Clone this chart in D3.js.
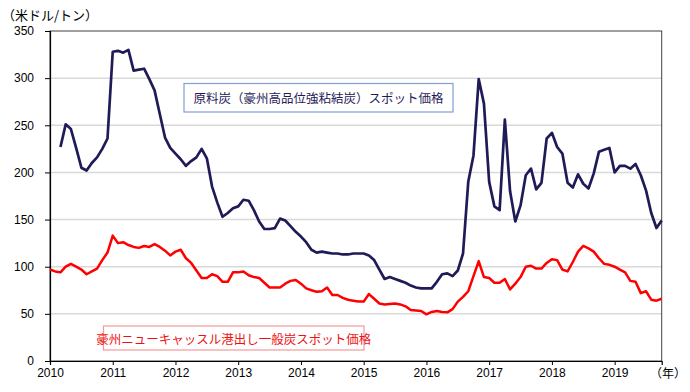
<!DOCTYPE html>
<html>
<head>
<meta charset="utf-8">
<script src="https://cdn.jsdelivr.net/npm/d3@7"></script>
<style>
  html, body { margin: 0; padding: 0; background: #ffffff; }
  svg { display: block; }
  text { font-family: "Liberation Sans", Arial, "Noto Sans CJK JP", sans-serif; }
  .jp { font-family: "Noto Sans CJK JP", "Noto Sans", sans-serif; }
</style>
</head>
<body>
<svg id="chart" width="690" height="392"></svg>
<script>
// ---- data (monthly, Jan 2010 – Oct 2019), US$/t ----
const yearLabels = ["2010","2011","2012","2013","2014","2015","2016","2017","2018","2019"];
const yTicks = [0, 50, 100, 150, 200, 250, 300, 350];

const cokingCoal = [
  null, null, 227, 251, 246, 226, 205, 202, 210, 216, 225, 236,
  328, 329, 327, 330, 308, 309, 310, 299, 287, 262, 237, 226,
  220, 214, 207, 212, 216, 225, 215, 185, 168, 153, 157, 162,
  164, 171, 170, 160, 148, 140, 140, 141, 151, 149, 143, 137,
  132, 126, 118, 115, 116, 115, 114, 114, 113, 113, 114, 114,
  114, 112, 107, 97, 87, 89, 87, 85, 83, 80, 78, 77,
  77, 77, 84, 92, 93, 90, 96, 114, 190, 218, 299, 273,
  190, 164, 160, 256, 180, 148, 165, 197, 204, 182, 189, 236,
  242, 227, 220, 189, 184, 198, 188, 183, 199, 222, 224, 226,
  200, 207, 207, 204, 209, 197, 181, 157, 141, 149
];

const thermalCoal = [
  97, 95, 94, 100, 103, 100, 97, 92, 95, 98, 107, 115,
  133, 125, 126, 123, 121, 120, 122, 121, 124, 121, 117, 112,
  116, 118, 109, 104, 96, 88, 88, 92, 90, 84, 84, 94,
  94, 95, 91, 89, 88, 83, 78, 78, 78, 82, 85, 86,
  82, 77, 75, 73.5, 74, 78, 70, 70, 67, 65, 64, 63,
  63, 71, 66, 61, 60, 60.5, 61, 60, 58, 54, 53.5, 53,
  49.5, 52, 53, 52, 51.6, 55, 63, 68, 74, 90, 106, 89,
  88, 83, 83, 87, 76, 82, 89, 100, 101, 98, 98, 104,
  108, 107, 97, 95, 105, 116, 122, 119.5, 116, 109, 103, 102,
  100, 97, 94, 85, 84, 72, 74, 65, 64, 66
];

const seriesNames = ["原料炭（豪州高品位強粘結炭）スポット価格", "豪州ニューキャッスル港出し一般炭スポット価格"];
const unitLabel = "（米ドル/トン）";
const xUnitLabel = "（年）";

// ---- layout ----
const svg = d3.select("#chart");
const pL = 50, pR = 661.7, pT = 31, pB = 361;

const n = thermalCoal.length;
const x = d3.scaleLinear().domain([0, n - 1]).range([pL, pR]);
const y = d3.scaleLinear().domain([0, 350]).range([pB, pT]);

// gridlines
svg.append("g")
  .selectAll("line")
  .data(yTicks.filter(d => d > 0 && d < 350))
  .join("line")
  .attr("x1", pL).attr("x2", pR)
  .attr("y1", d => y(d)).attr("y2", d => y(d))
  .attr("stroke", "#d9d9d9").attr("stroke-width", 1.5);

// frame (top/right)
svg.append("rect")
  .attr("x", pL).attr("y", pT)
  .attr("width", pR - pL).attr("height", pB - pT)
  .attr("fill", "none").attr("stroke", "#404040").attr("stroke-width", 1);

// y axis
const yAxis = d3.axisLeft(y).tickValues(yTicks).tickSize(5).tickPadding(11);
const gy = svg.append("g").attr("transform", `translate(${pL},0)`).call(yAxis);
gy.select(".domain").attr("stroke", "#000").attr("stroke-width", 1.2);
gy.selectAll(".tick line").attr("stroke", "#000");
gy.selectAll(".tick text").attr("font-size", 12).attr("fill", "#000")
  .style("font-family", "'Liberation Sans', Arial, sans-serif");

// x axis
const xTickIdx = yearLabels.map((d, i) => i * 12);
const xAxis = d3.axisBottom(x).tickValues(xTickIdx)
  .tickFormat((d, i) => yearLabels[i]).tickSize(4).tickPadding(3);
const gx = svg.append("g").attr("transform", `translate(0,${pB})`).call(xAxis);
gx.select(".domain").attr("stroke", "#000").attr("stroke-width", 1.2);
gx.selectAll(".tick line").attr("stroke", "#000");
gx.selectAll(".tick text").attr("font-size", 12).attr("fill", "#000")
  .style("font-family", "'Liberation Sans', Arial, sans-serif");

// unit labels
svg.append("text").attr("class", "jp")
  .attr("x", 2).attr("y", 20)
  .attr("font-size", 13).attr("fill", "#000")
  .text(unitLabel);
svg.append("text").attr("class", "jp")
  .attr("x", 686).attr("y", 378)
  .attr("text-anchor", "end")
  .attr("font-size", 12).attr("fill", "#000")
  .text(xUnitLabel);

// lines
const line = d3.line()
  .defined(d => d != null)
  .x((d, i) => x(i))
  .y(d => y(d));

svg.append("path").datum(thermalCoal)
  .attr("d", line)
  .attr("fill", "none").attr("stroke", "#ff0000")
  .attr("stroke-width", 2.5).attr("stroke-linejoin", "round");

svg.append("path").datum(cokingCoal)
  .attr("d", line)
  .attr("fill", "none").attr("stroke", "#1f1b57")
  .attr("stroke-width", 2.7).attr("stroke-linejoin", "round");

// legend boxes
function labelBox(x0, y0, w, h, txt, stroke, color) {
  svg.append("rect").attr("x", x0).attr("y", y0).attr("width", w).attr("height", h)
    .attr("fill", "#fff").attr("stroke", stroke).attr("stroke-width", 1.2);
  svg.append("text").attr("class", "jp")
    .attr("x", x0 + w / 2).attr("y", y0 + h / 2)
    .attr("text-anchor", "middle").attr("dominant-baseline", "central")
    .attr("font-size", 12.5).attr("fill", color)
    .text(txt);
}
labelBox(184, 83.5, 269, 28.5, seriesNames[0], "#7f9fd6", "#1f1b57");
labelBox(103.5, 326, 260.5, 24, seriesNames[1], "#f09a9a", "#ee1111");
</script>
</body>
</html>
